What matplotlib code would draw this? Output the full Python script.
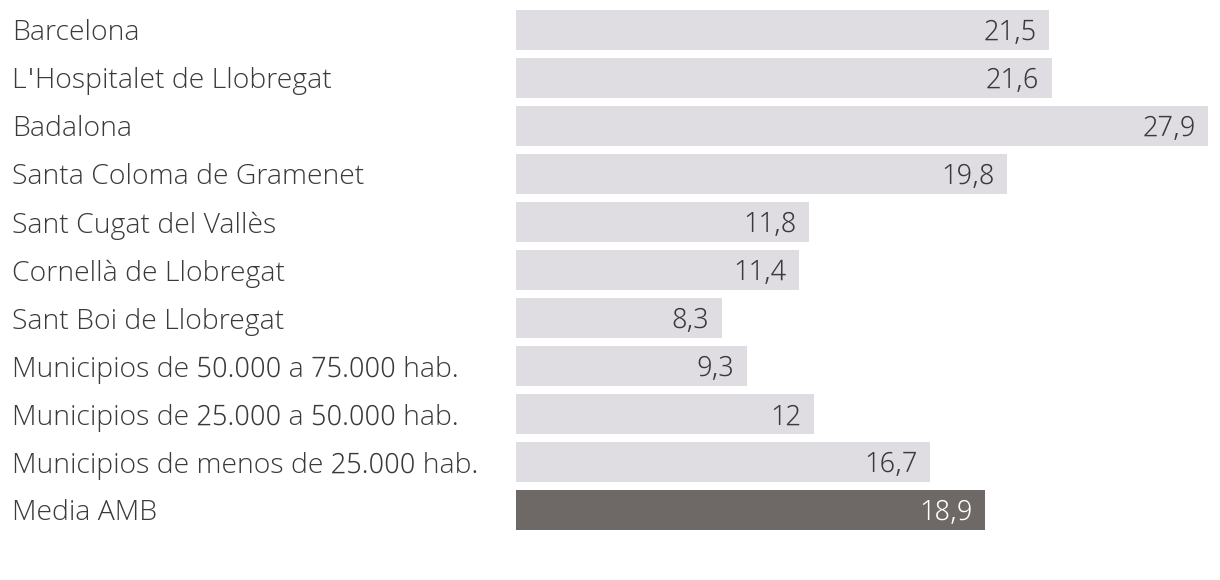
import matplotlib
matplotlib.use("Agg")
import matplotlib.pyplot as plt

# data
names = ["Barcelona", "L'Hospitalet de Llobregat", "Badalona", "Santa Coloma de Gramenet",
         "Sant Cugat del Vallès", "Cornellà de Llobregat", "Sant Boi de Llobregat",
         "Municipios de 50.000 a 75.000 hab.", "Municipios de 25.000 a 50.000 hab.",
         "Municipios de menos de 25.000 hab.", "Media AMB"]
values = [21.5, 21.6, 27.9, 19.8, 11.8, 11.4, 8.3, 9.3, 12, 16.7, 18.9]
labels = ["21,5", "21,6", "27,9", "19,8", "11,8", "11,4", "8,3", "9,3", "12", "16,7", "18,9"]

# light face close to Open Sans Light, falls back to Open Sans for missing glyphs
plt.rcParams['font.family'] = ['Noto Sans Devanagari UI', 'Open Sans', 'DejaVu Sans']

fig = plt.figure(figsize=(12.2, 5.8), dpi=100)
ax = fig.add_axes([516 / 1220, 46 / 580, 692 / 1220, 528 / 580])

colors = ['#dfdde2'] * (len(values) - 1) + ['#6e6867']
ypos = list(range(len(values)))
ax.barh(ypos, values, height=0.833, color=colors)

for i, (v, lab) in enumerate(zip(values, labels)):
    tc = 'white' if i == len(values) - 1 else '#3a3a3a'
    ax.annotate(lab, (v, i), xytext=(-9, 0), textcoords='offset points',
                ha='right', va='center_baseline', fontsize=20.4, fontweight=300, color=tc)
    fig.text(12 / 1220, 1 - (30 + 48 * i) / 580, names[i], ha='left', va='center_baseline',
             fontsize=20.4, fontweight=300, color='#3a3a3a')

ax.set_xlim(0, 27.9)
ax.set_ylim(len(values) - 0.5, -0.5)
ax.axis('off')

fig.savefig("out.png", dpi=100)
